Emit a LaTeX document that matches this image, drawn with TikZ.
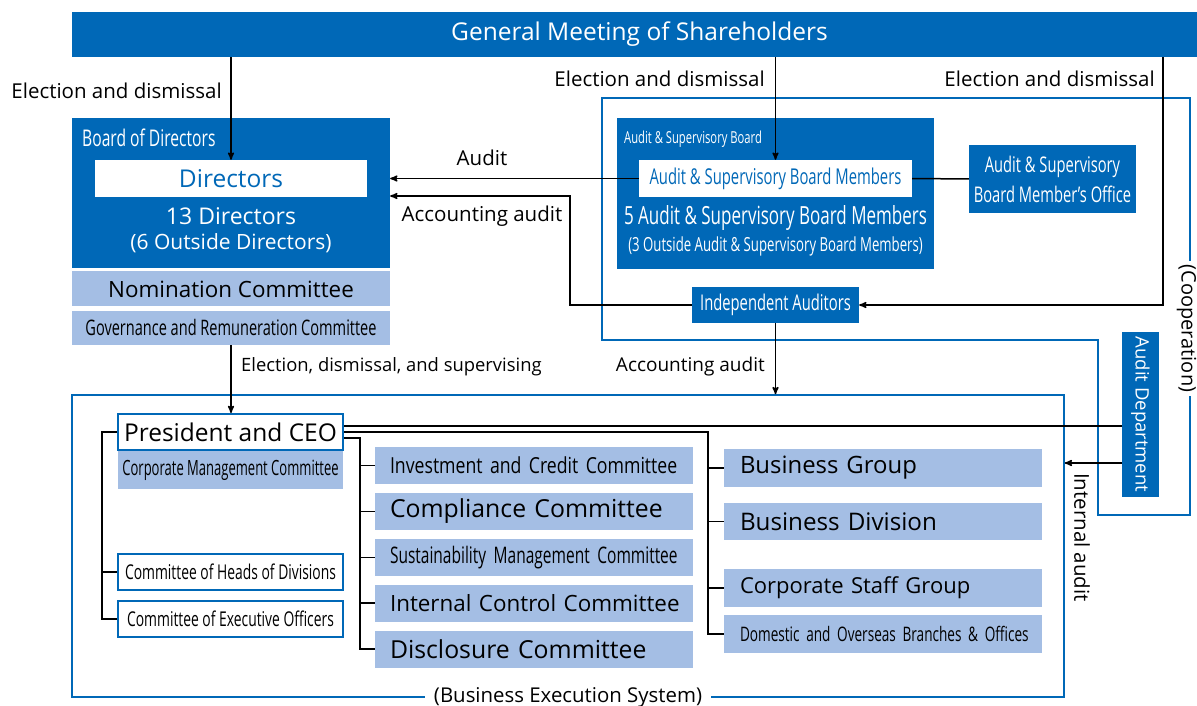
\documentclass[tikz,border=0pt]{standalone}
\usepackage{fontspec}
\setmainfont{Open Sans}
\newfontfamily\condfont[FakeStretch=0.68]{Open Sans}
\newfontfamily\narrowfont[FakeStretch=0.62]{Open Sans}
\newfontfamily\semifont[FakeStretch=0.8]{Open Sans}
\usepackage{graphicx}
\usepackage{tikz}
\usetikzlibrary{
  arrows,
  positioning
}
\definecolor{corpblue}{RGB}{0,104,183}
\definecolor{paleblue}{RGB}{164,190,228}
\newcommand{\fsz}[1]{\fontsize{#1}{#1}\selectfont}

\begin{document}
\begin{tikzpicture}[
      x=1pt,y=-1pt,
      >=stealth',
      darkbox/.style={
         rectangle,
         fill=corpblue,
         text=white,
         inner sep=0pt
      },
      palebox/.style={
         rectangle,
         fill=paleblue,
         inner sep=0pt,
         minimum width=318pt
      },
      listbox/.style={
         palebox,
         minimum height=37pt,
         inner xsep=15pt,
         text width=288pt,
         align=left
      },
      rightbox/.style={
         listbox,
         minimum height=37.5pt,
         inner xsep=16pt,
         text width=286pt
      },
      outlinebox/.style={
         rectangle,
         draw=corpblue,
         line width=1.8pt,
         fill=white,
         inner sep=0pt,
         minimum width=225pt,
         minimum height=36pt
      },
      frame/.style={draw=corpblue,line width=1.6pt},
      link/.style={draw=black,line width=1.5pt},
      tip/.style={link,->,shorten >=0.007pt},
      lbl/.style={inner sep=0pt,font=\fsz{20.5}}
    ]
    \path[fill=white] (0,0) rectangle (1197,706);
    \useasboundingbox (0,0) rectangle (1197,706);

    % shareholders
    \node (gm) [darkbox, minimum width=1125pt, minimum height=45pt, font=\fsz{24.5}] at (634.5,34.5) {\hspace*{10pt}General Meeting of Shareholders};

    % board of directors
    \node (bod) [darkbox, minimum width=318pt, minimum height=150pt] at (231,193) {};
    \node (bodlbl) [text=white, inner sep=0pt, anchor=west, font=\condfont\fsz{23}] at (82,138) {Board of Directors};
    \node (dirs) [fill=white, text=corpblue, inner sep=0pt, minimum width=272pt, minimum height=37pt, font=\fsz{24.5}] at (231,178.5) {Directors};
    \node (dirnum) [text=white, inner sep=0pt, font=\fsz{23}] at (231,216) {13 Directors};
    \node (dirout) [text=white, inner sep=0pt, font=\fsz{21}] at (231,243) {(6 Outside Directors)};
    \node (nom) [palebox, minimum height=35pt, below=3pt of bod, font=\fsz{22.4}] {Nomination Committee};
    \node (gov) [palebox, minimum height=34pt, below=4pt of nom, font=\condfont\fsz{21.4}] {Governance and Remuneration Committee};

    % audit & supervisory board
    \draw[frame] (602,98) -- (1190,98) -- (1190,515) -- (1098,515) -- (1098,340) -- (602,340) -- cycle;
    \node (coop) [fill=white, inner xsep=4pt, inner ysep=0pt, rotate=-90, font=\fsz{20}] at (1186.5,328.5) {(Cooperation)};
    \node (asb) [darkbox, minimum width=317pt, minimum height=151pt] at (775.5,193.5) {};
    \node (asblbl) [text=white, inner sep=0pt, anchor=west, font=\condfont\fsz{16.5}] at (624,139) {Audit \& Supervisory Board};
    \node (asbm) [fill=white, text=corpblue, inner sep=0pt, minimum width=273pt, minimum height=37pt, font=\condfont\fsz{21.8}] at (775.5,178.5) {Audit \& Supervisory Board Members};
    \node (asbnum) [text=white, inner sep=0pt, font=\condfont\fsz{25}] at (775.5,218) {5 Audit \& Supervisory Board Members};
    \node (asbout) [text=white, inner sep=0pt, font=\condfont\fsz{19.4}] at (775.5,246) {(3 Outside Audit \& Supervisory Board Members)};
    \node (office) [darkbox, minimum width=167pt, minimum height=68pt, align=center, font=\condfont\fontsize{21.6}{30}\selectfont] at (1052.5,179) {Audit \& Supervisory\\Board Member’s Office};
    \node (indep) [darkbox, minimum width=167pt, minimum height=36pt, font=\condfont\fsz{21.7}] at (775.5,305) {Independent Auditors};
    \node (audit) [darkbox, minimum width=37pt, minimum height=165pt, font=\fsz{18.5}] at (1140.5,414.5) {\rotatebox{-90}{Audit Department}};

    % business execution system
    \node (bes) [frame, rectangle, inner sep=0pt, minimum width=992pt, minimum height=302pt] at (568,546) {};
    \node (beslbl) [fill=white, inner xsep=9pt, inner ysep=1pt, font=\fsz{20.4}] at (bes.south) {(Business Execution System)};
    \node (ceo) [outlinebox, font=\fsz{24.5}] at (230.5,432) {President and CEO};
    \node (corp) [palebox, minimum width=225pt, minimum height=38pt, below=0pt of ceo, font=\narrowfont\fsz{21}] {Corporate Management Committee};
    \node (heads) [outlinebox, font=\condfont\fsz{20.4}] at (230.5,572) {Committee of Heads of Divisions};
    \node (exec) [outlinebox, below=9pt of heads, font=\condfont\fsz{20.4}] {Committee of Executive Officers};

    \node (inv) [listbox, font=\semifont\fsz{22.1}] at (534,465.5) {\mbox{Investment and Credit Committee}};
    \node (comp) [listbox, below=8.5pt of inv, font=\fsz{24.8}] {\mbox{Compliance Committee}};
    \node (sust) [listbox, below=8.5pt of comp, font=\condfont\fsz{22.8}] {\mbox{Sustainability Management Committee}};
    \node (intc) [listbox, below=8.5pt of sust, font=\fsz{22.4}] {\mbox{Internal Control Committee}};
    \node (disc) [listbox, below=8.5pt of intc, font=\fsz{24.8}] {\mbox{Disclosure Committee}};

    \node (bg) [rightbox, font=\fsz{23.9}] at (883,468) {\mbox{Business Group}};
    \node (bd) [rightbox, below=15.5pt of bg, font=\fsz{24.2}] {\mbox{Business Division}};
    \node (cs) [rightbox, below=28.5pt of bd, font=\fsz{22}] {\mbox{Corporate Staff Group}};
    \node (dom) [rightbox, below=8.5pt of cs, font=\condfont\fsz{20}] {\mbox{Domestic and Overseas Branches \& Offices}};

    % labels
    \node (elecL) [lbl, anchor=east] at (222,91) {Election and dismissal};
    \node (elecM) [lbl, anchor=east] at (765,79) {Election and dismissal};
    \node (elecR) [lbl, anchor=east] at (1155,79) {Election and dismissal};
    \node (audlbl) [lbl] at (482,158) {Audit};
    \node (acclbl) [lbl] at (482,216) {Accounting audit};
    \node (acc2lbl) [lbl, anchor=east, font=\fsz{19}] at (765,367) {Accounting audit};
    \node (suplbl) [lbl, anchor=west, font=\fsz{18.4}] at (241,367) {Election, dismissal, and supervising};
    \node (intlbl) [lbl, rotate=-90] at (1082,537.5) {Internal audit};

    % connectors
    \draw[tip] (gm.south -| dirs.north) -- (dirs.north);
    \draw[tip] (gm.south -| asbm.north) -- (asbm.north);
    \coordinate (elecbend) at (1163,305);
    \draw[tip] (gm.south -| elecbend) -- (elecbend) -- (indep.east);
    \draw[tip] (asbm.west) -- (asbm.west -| bod.east);
    \draw[link] (asbm.east) -- (office.west);
    \coordinate (accbend) at (570,196);
    \draw[tip] (indep.west) -| (accbend) -- (accbend -| bod.east);
    \draw[tip] (indep.south) -- (indep.south |- bes.north);
    \draw[tip] (gov.south) -- (gov.south |- ceo.north);

    \coordinate (ceoup) at ([yshift=6pt]ceo.east);
    \coordinate (ceodn) at ([yshift=-6pt]ceo.east);
    \draw[link] (ceoup) -- (ceoup -| audit.west);
    \coordinate (rtop) at (708,432);
    \draw[link] (ceo.east) -- (rtop) |- (dom.west);
    \foreach \n in {bg,bd,cs}
       \draw[link] (rtop |- \n.west) -- (\n.west);
    \coordinate (mtop) at (360,438);
    \draw[link] (ceodn) -- (mtop) |- (disc.west);
    \foreach \n in {inv,comp,sust,intc}
       \draw[link] (mtop |- \n.west) -- (\n.west);
    \coordinate (ltop) at (102,432);
    \draw[link] (ceo.west) -- (ltop) |- (exec.west);
    \draw[link] (ltop |- heads.west) -- (heads.west);
    \coordinate (intaud) at ([yshift=-48.5pt]audit.west);
    \draw[tip] (intaud) -- (intaud -| bes.east);
\end{tikzpicture}
\end{document}
